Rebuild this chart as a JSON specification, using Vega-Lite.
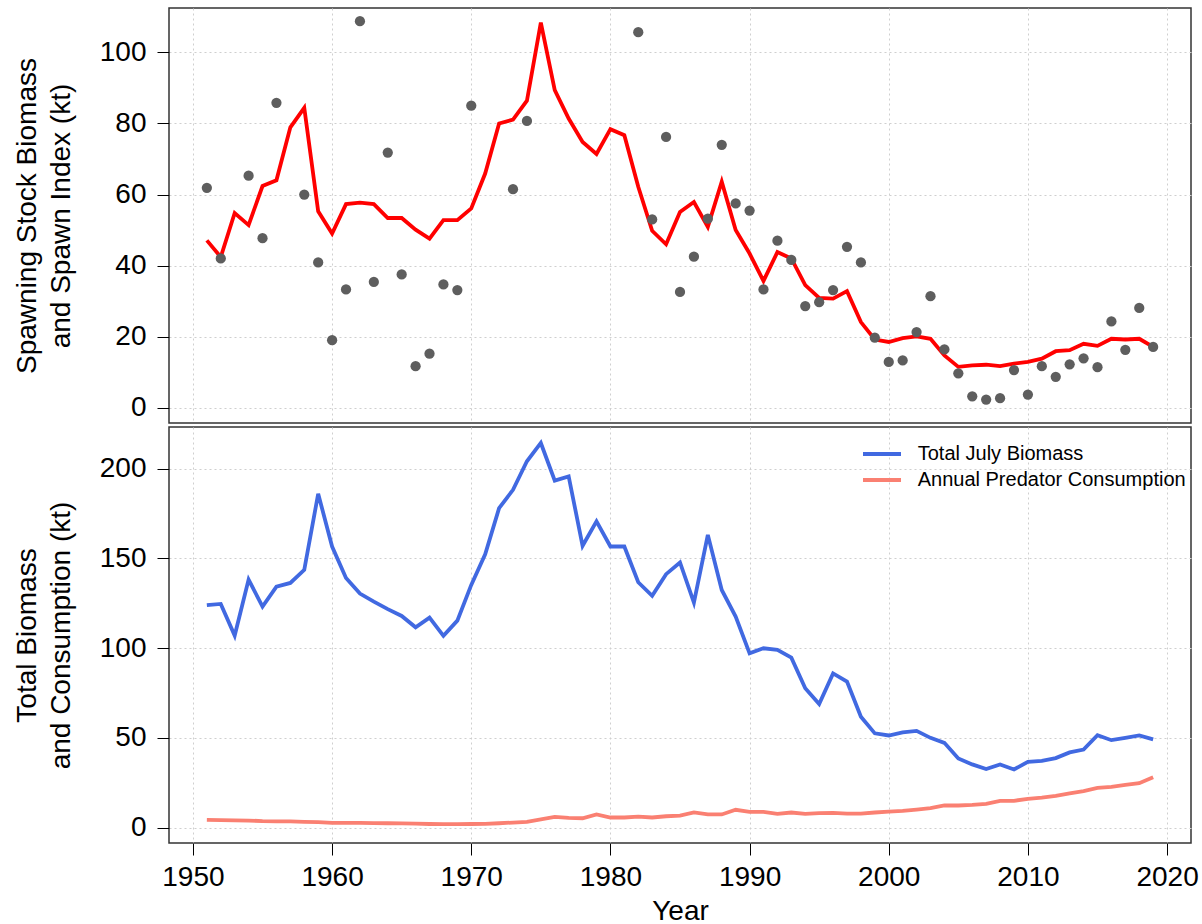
{
  "$schema": "https://vega.github.io/schema/vega-lite/v6.json",
  "autosize": {"type": "none"},
  "padding": {"left": 169, "top": 8, "right": 1033, "bottom": 916},
  "background": "white",
  "spacing": 4,
  "bounds": "flush",
  "config": {
    "font": "Liberation Sans",
    "view": {"stroke": "#333333", "strokeWidth": 1.5},
    "axis": {
      "labelFont": "Liberation Sans",
      "titleFont": "Liberation Sans",
      "labelFontSize": 28,
      "titleFontSize": 28,
      "titleFontWeight": "normal",
      "labelColor": "black",
      "titleColor": "black",
      "tickColor": "black",
      "tickSize": 12,
      "tickWidth": 1,
      "domain": false,
      "gridColor": "#cfcfcf",
      "gridDash": [2, 3],
      "gridWidth": 1
    }
  },
  "datasets": {
    "ssb": [
      {"year": 1951, "ssb": 47.1}, {"year": 1952, "ssb": 42.4}, {"year": 1953, "ssb": 54.8},
      {"year": 1954, "ssb": 51.4}, {"year": 1955, "ssb": 62.4}, {"year": 1956, "ssb": 64.0},
      {"year": 1957, "ssb": 78.9}, {"year": 1958, "ssb": 84.4}, {"year": 1959, "ssb": 55.3},
      {"year": 1960, "ssb": 49.0}, {"year": 1961, "ssb": 57.3}, {"year": 1962, "ssb": 57.7},
      {"year": 1963, "ssb": 57.3}, {"year": 1964, "ssb": 53.4}, {"year": 1965, "ssb": 53.4},
      {"year": 1966, "ssb": 50.1}, {"year": 1967, "ssb": 47.6}, {"year": 1968, "ssb": 52.8},
      {"year": 1969, "ssb": 52.8}, {"year": 1970, "ssb": 56.1}, {"year": 1971, "ssb": 65.9},
      {"year": 1972, "ssb": 80.0}, {"year": 1973, "ssb": 81.1}, {"year": 1974, "ssb": 86.4},
      {"year": 1975, "ssb": 108.4}, {"year": 1976, "ssb": 89.4}, {"year": 1977, "ssb": 81.4},
      {"year": 1978, "ssb": 74.8}, {"year": 1979, "ssb": 71.4}, {"year": 1980, "ssb": 78.4},
      {"year": 1981, "ssb": 76.7}, {"year": 1982, "ssb": 62.2}, {"year": 1983, "ssb": 49.8},
      {"year": 1984, "ssb": 46.0}, {"year": 1985, "ssb": 55.1}, {"year": 1986, "ssb": 57.9},
      {"year": 1987, "ssb": 50.9}, {"year": 1988, "ssb": 63.6}, {"year": 1989, "ssb": 50.0},
      {"year": 1990, "ssb": 43.4}, {"year": 1991, "ssb": 35.7}, {"year": 1992, "ssb": 43.8},
      {"year": 1993, "ssb": 42.0}, {"year": 1994, "ssb": 34.5}, {"year": 1995, "ssb": 30.9},
      {"year": 1996, "ssb": 30.7}, {"year": 1997, "ssb": 32.8}, {"year": 1998, "ssb": 24.1},
      {"year": 1999, "ssb": 19.2}, {"year": 2000, "ssb": 18.5}, {"year": 2001, "ssb": 19.6},
      {"year": 2002, "ssb": 20.1}, {"year": 2003, "ssb": 19.4}, {"year": 2004, "ssb": 14.7},
      {"year": 2005, "ssb": 11.5}, {"year": 2006, "ssb": 11.9}, {"year": 2007, "ssb": 12.1},
      {"year": 2008, "ssb": 11.7}, {"year": 2009, "ssb": 12.4}, {"year": 2010, "ssb": 12.9},
      {"year": 2011, "ssb": 13.8}, {"year": 2012, "ssb": 15.9}, {"year": 2013, "ssb": 16.2},
      {"year": 2014, "ssb": 18.0}, {"year": 2015, "ssb": 17.4}, {"year": 2016, "ssb": 19.4},
      {"year": 2017, "ssb": 19.2}, {"year": 2018, "ssb": 19.4}, {"year": 2019, "ssb": 17.1}
    ],
    "spawn": [
      {"year": 1951, "index": 61.9}, {"year": 1952, "index": 42.0}, {"year": 1954, "index": 65.3},
      {"year": 1955, "index": 47.7}, {"year": 1956, "index": 85.8}, {"year": 1958, "index": 60.0},
      {"year": 1959, "index": 40.9}, {"year": 1960, "index": 19.0}, {"year": 1961, "index": 33.3},
      {"year": 1962, "index": 108.8}, {"year": 1963, "index": 35.4}, {"year": 1964, "index": 71.8},
      {"year": 1965, "index": 37.5}, {"year": 1966, "index": 11.7}, {"year": 1967, "index": 15.2},
      {"year": 1968, "index": 34.7}, {"year": 1969, "index": 33.1}, {"year": 1970, "index": 85.0},
      {"year": 1973, "index": 61.5}, {"year": 1974, "index": 80.7}, {"year": 1982, "index": 105.7},
      {"year": 1983, "index": 53.0}, {"year": 1984, "index": 76.2}, {"year": 1985, "index": 32.6},
      {"year": 1986, "index": 42.5}, {"year": 1987, "index": 53.2}, {"year": 1988, "index": 74.0},
      {"year": 1989, "index": 57.5}, {"year": 1990, "index": 55.5}, {"year": 1991, "index": 33.3},
      {"year": 1992, "index": 47.0}, {"year": 1993, "index": 41.6}, {"year": 1994, "index": 28.6},
      {"year": 1995, "index": 29.7}, {"year": 1996, "index": 33.1}, {"year": 1997, "index": 45.3},
      {"year": 1998, "index": 40.9}, {"year": 1999, "index": 19.7}, {"year": 2000, "index": 12.9},
      {"year": 2001, "index": 13.3}, {"year": 2002, "index": 21.3}, {"year": 2003, "index": 31.4},
      {"year": 2004, "index": 16.4}, {"year": 2005, "index": 9.7}, {"year": 2006, "index": 3.2},
      {"year": 2007, "index": 2.3}, {"year": 2008, "index": 2.7}, {"year": 2009, "index": 10.6},
      {"year": 2010, "index": 3.7}, {"year": 2011, "index": 11.7}, {"year": 2012, "index": 8.7},
      {"year": 2013, "index": 12.2}, {"year": 2014, "index": 13.9}, {"year": 2015, "index": 11.4},
      {"year": 2016, "index": 24.3}, {"year": 2017, "index": 16.3}, {"year": 2018, "index": 28.1},
      {"year": 2019, "index": 17.1}
    ],
    "bio": [
      {"year": 1951, "Total July Biomass": 123.9, "Annual Predator Consumption": 4.3},
      {"year": 1952, "Total July Biomass": 124.6, "Annual Predator Consumption": 4.2},
      {"year": 1953, "Total July Biomass": 107.0, "Annual Predator Consumption": 4.0},
      {"year": 1954, "Total July Biomass": 138.2, "Annual Predator Consumption": 3.9},
      {"year": 1955, "Total July Biomass": 123.1, "Annual Predator Consumption": 3.6},
      {"year": 1956, "Total July Biomass": 134.3, "Annual Predator Consumption": 3.5},
      {"year": 1957, "Total July Biomass": 136.3, "Annual Predator Consumption": 3.4},
      {"year": 1958, "Total July Biomass": 143.6, "Annual Predator Consumption": 3.2},
      {"year": 1959, "Total July Biomass": 186.0, "Annual Predator Consumption": 3.0},
      {"year": 1960, "Total July Biomass": 156.6, "Annual Predator Consumption": 2.6},
      {"year": 1961, "Total July Biomass": 139.1, "Annual Predator Consumption": 2.6},
      {"year": 1962, "Total July Biomass": 130.4, "Annual Predator Consumption": 2.6},
      {"year": 1963, "Total July Biomass": 125.9, "Annual Predator Consumption": 2.5},
      {"year": 1964, "Total July Biomass": 121.7, "Annual Predator Consumption": 2.4},
      {"year": 1965, "Total July Biomass": 117.9, "Annual Predator Consumption": 2.3},
      {"year": 1966, "Total July Biomass": 111.6, "Annual Predator Consumption": 2.2},
      {"year": 1967, "Total July Biomass": 117.0, "Annual Predator Consumption": 2.0},
      {"year": 1968, "Total July Biomass": 106.8, "Annual Predator Consumption": 1.9},
      {"year": 1969, "Total July Biomass": 115.3, "Annual Predator Consumption": 1.9},
      {"year": 1970, "Total July Biomass": 135.2, "Annual Predator Consumption": 2.0},
      {"year": 1971, "Total July Biomass": 152.3, "Annual Predator Consumption": 2.1},
      {"year": 1972, "Total July Biomass": 178.0, "Annual Predator Consumption": 2.4},
      {"year": 1973, "Total July Biomass": 188.2, "Annual Predator Consumption": 2.8},
      {"year": 1974, "Total July Biomass": 204.1, "Annual Predator Consumption": 3.2},
      {"year": 1975, "Total July Biomass": 214.3, "Annual Predator Consumption": 4.6},
      {"year": 1976, "Total July Biomass": 193.3, "Annual Predator Consumption": 6.0},
      {"year": 1977, "Total July Biomass": 195.7, "Annual Predator Consumption": 5.4},
      {"year": 1978, "Total July Biomass": 157.0, "Annual Predator Consumption": 5.2},
      {"year": 1979, "Total July Biomass": 170.6, "Annual Predator Consumption": 7.3},
      {"year": 1980, "Total July Biomass": 156.6, "Annual Predator Consumption": 5.6},
      {"year": 1981, "Total July Biomass": 156.6, "Annual Predator Consumption": 5.6},
      {"year": 1982, "Total July Biomass": 136.7, "Annual Predator Consumption": 6.1},
      {"year": 1983, "Total July Biomass": 129.1, "Annual Predator Consumption": 5.6},
      {"year": 1984, "Total July Biomass": 141.2, "Annual Predator Consumption": 6.3},
      {"year": 1985, "Total July Biomass": 147.7, "Annual Predator Consumption": 6.7},
      {"year": 1986, "Total July Biomass": 125.4, "Annual Predator Consumption": 8.4},
      {"year": 1987, "Total July Biomass": 163.1, "Annual Predator Consumption": 7.3},
      {"year": 1988, "Total July Biomass": 132.4, "Annual Predator Consumption": 7.3},
      {"year": 1989, "Total July Biomass": 117.6, "Annual Predator Consumption": 9.9},
      {"year": 1990, "Total July Biomass": 97.1, "Annual Predator Consumption": 8.7},
      {"year": 1991, "Total July Biomass": 99.9, "Annual Predator Consumption": 8.7},
      {"year": 1992, "Total July Biomass": 99.0, "Annual Predator Consumption": 7.6},
      {"year": 1993, "Total July Biomass": 94.7, "Annual Predator Consumption": 8.4},
      {"year": 1994, "Total July Biomass": 77.6, "Annual Predator Consumption": 7.6},
      {"year": 1995, "Total July Biomass": 68.8, "Annual Predator Consumption": 8.0},
      {"year": 1996, "Total July Biomass": 85.9, "Annual Predator Consumption": 8.2},
      {"year": 1997, "Total July Biomass": 81.3, "Annual Predator Consumption": 7.8},
      {"year": 1998, "Total July Biomass": 61.8, "Annual Predator Consumption": 7.8},
      {"year": 1999, "Total July Biomass": 52.5, "Annual Predator Consumption": 8.4},
      {"year": 2000, "Total July Biomass": 51.3, "Annual Predator Consumption": 8.9},
      {"year": 2001, "Total July Biomass": 53.0, "Annual Predator Consumption": 9.3},
      {"year": 2002, "Total July Biomass": 53.9, "Annual Predator Consumption": 10.0},
      {"year": 2003, "Total July Biomass": 50.0, "Annual Predator Consumption": 10.8},
      {"year": 2004, "Total July Biomass": 47.2, "Annual Predator Consumption": 12.3},
      {"year": 2005, "Total July Biomass": 38.5, "Annual Predator Consumption": 12.3},
      {"year": 2006, "Total July Biomass": 35.2, "Annual Predator Consumption": 12.6},
      {"year": 2007, "Total July Biomass": 32.6, "Annual Predator Consumption": 13.2},
      {"year": 2008, "Total July Biomass": 35.2, "Annual Predator Consumption": 14.9},
      {"year": 2009, "Total July Biomass": 32.4, "Annual Predator Consumption": 14.9},
      {"year": 2010, "Total July Biomass": 36.6, "Annual Predator Consumption": 16.0},
      {"year": 2011, "Total July Biomass": 37.2, "Annual Predator Consumption": 16.7},
      {"year": 2012, "Total July Biomass": 38.7, "Annual Predator Consumption": 17.7},
      {"year": 2013, "Total July Biomass": 41.9, "Annual Predator Consumption": 19.0},
      {"year": 2014, "Total July Biomass": 43.5, "Annual Predator Consumption": 20.3},
      {"year": 2015, "Total July Biomass": 51.5, "Annual Predator Consumption": 22.1},
      {"year": 2016, "Total July Biomass": 48.7, "Annual Predator Consumption": 22.7},
      {"year": 2017, "Total July Biomass": 50.0, "Annual Predator Consumption": 23.8},
      {"year": 2018, "Total July Biomass": 51.3, "Annual Predator Consumption": 24.7},
      {"year": 2019, "Total July Biomass": 49.1, "Annual Predator Consumption": 28.1}
    ]
  },
  "vconcat": [
    {
      "width": 1022,
      "height": 415,
      "layer": [
        {
          "data": {"name": "ssb"},
          "mark": {"type": "line", "color": "#FF0000", "strokeWidth": 3.8},
          "encoding": {
            "x": {"field": "year", "type": "quantitative",
              "scale": {"domain": [1948.28, 2021.72], "nice": false, "zero": false},
              "axis": {"values": [1950, 1960, 1970, 1980, 1990, 2000, 2010, 2020], "labels": false, "ticks": false, "title": null, "grid": true}},
            "y": {"field": "ssb", "type": "quantitative",
              "scale": {"domain": [-4.3, 112.5], "nice": false, "zero": false},
              "axis": {"values": [0, 20, 40, 60, 80, 100], "labelPadding": 11, "titlePadding": 24, "titleLineHeight": 34,
                "title": ["Spawning Stock Biomass", "and Spawn Index (kt)"]}}
          }
        },
        {
          "data": {"name": "spawn"},
          "mark": {"type": "point", "filled": true, "color": "#5e5e5e", "opacity": 1, "size": 105},
          "encoding": {
            "x": {"field": "year", "type": "quantitative"},
            "y": {"field": "index", "type": "quantitative"}
          }
        }
      ]
    },
    {
      "width": 1022,
      "height": 416,
      "data": {"name": "bio"},
      "transform": [{"fold": ["Total July Biomass", "Annual Predator Consumption"], "as": ["series", "value"]}],
      "mark": {"type": "line", "strokeWidth": 3.8},
      "encoding": {
        "x": {"field": "year", "type": "quantitative",
          "scale": {"domain": [1948.28, 2021.72], "nice": false, "zero": false},
          "axis": {"values": [1950, 1960, 1970, 1980, 1990, 2000, 2010, 2020], "format": "d", "labelPadding": 8, "title": "Year", "titlePadding": 6, "grid": true, "labelFlush": false}},
        "y": {"field": "value", "type": "quantitative",
          "scale": {"domain": [-8.6, 223.2], "nice": false, "zero": false},
          "axis": {"values": [0, 50, 100, 150, 200], "labelPadding": 11, "titlePadding": 24, "titleLineHeight": 34,
            "title": ["Total Biomass", "and Consumption (kt)"]}},
        "color": {"field": "series", "type": "nominal",
          "scale": {"domain": ["Total July Biomass", "Annual Predator Consumption"], "range": ["#4169E1", "#FA8072"]},
          "legend": {"orient": "none", "legendX": 701, "legendY": 434, "title": null, "padding": 0,
            "labelFont": "Liberation Sans", "labelFontSize": 20, "labelColor": "black", "labelLimit": 0,
            "symbolType": "M-1.9,0H1.9", "symbolSize": 400, "symbolStrokeWidth": 4,
            "labelOffset": 23.7, "rowPadding": 4}}
      }
    }
  ]
}
